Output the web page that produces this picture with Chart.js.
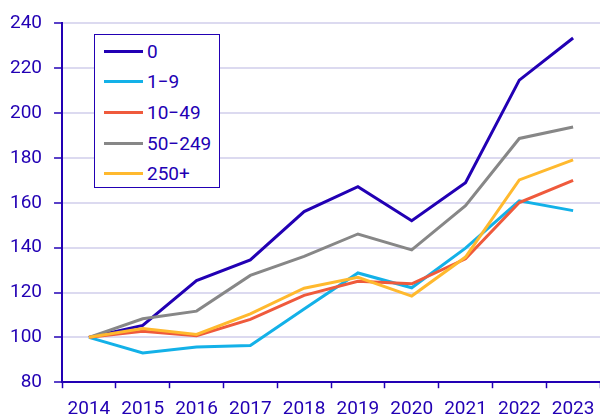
<!DOCTYPE html>
<html>
<head>
<meta charset="utf-8">
<script src="https://cdn.jsdelivr.net/npm/chart.js@4"></script>
<style>
  html, body { margin: 0; padding: 0; background: #fff; }
  #wrap { position: relative; width: 600px; height: 419px; overflow: hidden; }
  #legend {
    position: absolute; left: 94px; top: 34px; width: 126px; height: 154px;
    box-sizing: border-box; border: 1.5px solid #2200b4; background: #fff;
    font-family: Roboto, sans-serif; font-size: 19px; color: #2200b4;
    padding-top: 1px;
  }
  #legend .row { height: 30.6px; display: flex; align-items: center; }
  #legend .swatch { width: 39px; height: 3px; margin-left: 9px; margin-right: 4px; }
</style>
</head>
<body>
<div id="wrap">
  <canvas id="chart" width="600" height="419"></canvas>
  <div id="legend"></div>
</div>
<script>
var years = ['2014', '2015', '2016', '2017', '2018', '2019', '2020', '2021', '2022', '2023'];
var sizeClasses = ['0', '1\u22129', '10\u221249', '50\u2212249', '250+'];
var size0    = [100, 105.3, 125.3, 134.5, 156.1, 167.2, 152.0, 169.0, 214.7, 233.5];
var size1_9  = [100, 93.0, 95.7, 96.4, 112.6, 128.7, 122.1, 139.8, 160.9, 156.5];
var size10_49 = [100, 102.7, 100.7, 108.0, 118.7, 125.0, 123.9, 135.0, 160.1, 170.0];
var size50_249 = [100, 108.3, 111.7, 127.6, 136.1, 146.1, 139.0, 158.7, 188.7, 193.8];
var size250 = [100, 103.9, 101.3, 110.5, 121.9, 126.8, 118.4, 135.8, 170.2, 179.1];
var seriesValues = [size0, size1_9, size10_49, size50_249, size250];
var colors = ['#2200b4', '#13b1e8', '#ef5a3c', '#878787', '#ffb92e'];

var ink = '#2200b4';
var gridColor = '#dcdaf0';

var datasets = [];
for (var i = 0; i < sizeClasses.length; i++) {
  datasets.push({
    label: sizeClasses[i],
    data: seriesValues[i],
    borderColor: colors[i],
    backgroundColor: colors[i],
    borderWidth: 3,
    pointRadius: 0,
    tension: 0,
    order: sizeClasses.length - i
  });
}

var ctx = document.getElementById('chart');
var chart = new Chart(ctx, {
  type: 'line',
  data: { labels: years, datasets: datasets },
  options: {
    responsive: false,
    animation: false,
    // chart.js counts tick padding twice when sizing the axes, so pull them back in
    layout: { padding: { left: -2, top: 12, right: -2, bottom: -12 } },
    plugins: {
      legend: { display: false },
      tooltip: { enabled: false }
    },
    scales: {
      x: {
        offset: true,
        afterFit: function (scale) {
          // plot runs right up to (slightly past) the canvas edge
          scale.paddingRight = -2;
        },
        grid: {
          offset: true,
          drawOnChartArea: false,
          drawTicks: true,
          tickLength: 6,
          tickColor: ink,
          tickWidth: 1.5
        },
        border: { color: ink, width: 2 },
        ticks: {
          color: ink,
          padding: 10,
          maxRotation: 0,
          font: { family: 'Roboto', size: 19 }
        }
      },
      y: {
        min: 80,
        max: 240,
        grid: {
          color: gridColor,
          lineWidth: 2,
          tickLength: 8,
          tickColor: ink,
          tickWidth: 1.5
        },
        border: { color: ink, width: 2 },
        ticks: {
          stepSize: 20,
          color: ink,
          padding: 12,
          font: { family: 'Roboto', size: 19 }
        }
      }
    }
  }
});

// html legend from the datasets
var legend = document.getElementById('legend');
chart.data.datasets.forEach(function (ds) {
  var row = document.createElement('div');
  row.className = 'row';
  var sw = document.createElement('span');
  sw.className = 'swatch';
  sw.style.background = ds.borderColor;
  var txt = document.createElement('span');
  txt.textContent = ds.label;
  row.appendChild(sw);
  row.appendChild(txt);
  legend.appendChild(row);
});
</script>
</body>
</html>
